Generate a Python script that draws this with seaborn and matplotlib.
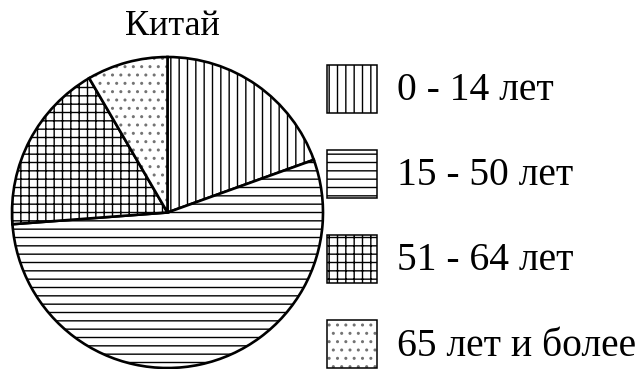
import matplotlib
matplotlib.use("Agg")
import matplotlib.pyplot as plt
from matplotlib.patches import Rectangle
import seaborn as sns

# Age structure of the population of China, percent
age_groups = ["0 - 14 лет", "15 - 50 лет", "51 - 64 лет", "65 лет и более"]
shares = [19.5, 54.3, 17.8, 8.4]
hatches = ["||", "--", "++", ".."]
title = "Китай"

sns.set_theme(style="white")
plt.rcParams["font.family"] = ["Liberation Serif", "DejaVu Serif"]
plt.rcParams["hatch.linewidth"] = 1.0
plt.rcParams["hatch.color"] = "black"

W, H = 638, 369
fig = plt.figure(figsize=(W / 100, H / 100), dpi=100)
fig.patch.set_facecolor("white")


def fx(px):
    return px / W


def fy(py):
    return 1 - py / H


def style_hatch(patch, pattern):
    patch.set_hatch(pattern)
    # the dotted fill is printed lighter than the line fills
    if pattern.startswith("."):
        patch._hatch_color = (0.45, 0.45, 0.45, 1.0)


# pie: centre (167.5, 212.5) px, radius 155.5 px
cx, cy, r = 167.5, 212.5, 155.5
ax = fig.add_axes([fx(cx - r), fy(cy + r), 2 * r / W, 2 * r / H])
wedges, _ = ax.pie(
    shares,
    startangle=90,
    counterclock=False,
    radius=1.0,
    colors=["white"] * len(shares),
    wedgeprops=dict(edgecolor="black", linewidth=1.9),
)
for w, h in zip(wedges, hatches):
    style_hatch(w, h)
    w.set_clip_on(False)
ax.set_xlim(-1, 1)
ax.set_ylim(-1, 1)
ax.set_axis_off()

fig.text(fx(172), fy(35), title, ha="center", va="baseline",
         fontsize=26, color="black")

# legend: hatched boxes with labels
box_tops = [65, 150, 235, 320]
box_w, box_h = 50, 48
for top, label, h in zip(box_tops, age_groups, hatches):
    rect = Rectangle((fx(327), fy(top + box_h)), box_w / W, box_h / H,
                     transform=fig.transFigure, facecolor="white",
                     edgecolor="black", linewidth=1.1)
    style_hatch(rect, h)
    fig.add_artist(rect)
    fig.text(fx(397), fy(top + box_h / 2 + 2), label, ha="left",
             va="center", fontsize=28.5, color="black")

fig.savefig("out.png", dpi=100, facecolor="white")
